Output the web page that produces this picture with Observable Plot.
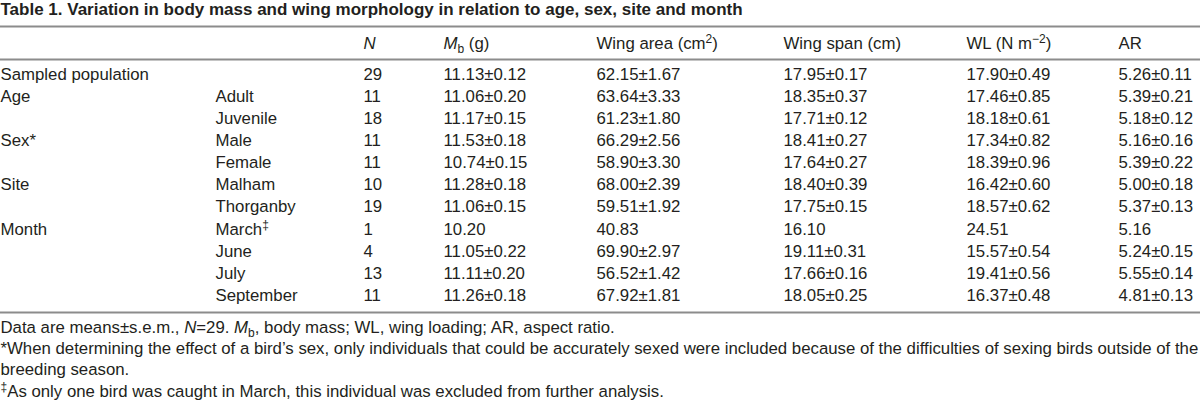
<!DOCTYPE html>
<html>
<head>
<meta charset="utf-8">
<script src="https://cdn.jsdelivr.net/npm/d3@7"></script>
<script src="https://cdn.jsdelivr.net/npm/@observablehq/plot@0.6"></script>
<style>
  html, body { margin: 0; padding: 0; background: #fff; }
  #chart svg { display: block; }
</style>
</head>
<body>
<div id="chart"></div>
<script>
// ---------- data ----------
const title = "Table 1. Variation in body mass and wing morphology in relation to age, sex, site and month";
const headers = ["", "", "<i>N</i>", "<i>M</i><sub>b</sub> (g)", "Wing area (cm<sup>2</sup>)", "Wing span (cm)", "WL (N m<sup>−2</sup>)", "AR"];
const groupLabels = ["Sampled population", "Age", "", "Sex*", "", "Site", "", "Month", "", "", ""];
const levels = ["", "Adult", "Juvenile", "Male", "Female", "Malham", "Thorganby", "March<sup>‡</sup>", "June", "July", "September"];
const nValues = [29, 11, 18, 11, 11, 10, 19, 1, 4, 13, 11];
const massMean = [11.13, 11.06, 11.17, 11.53, 10.74, 11.28, 11.06, 10.20, 11.05, 11.11, 11.26];
const massSem  = [0.12, 0.20, 0.15, 0.18, 0.15, 0.18, 0.15, null, 0.22, 0.20, 0.18];
const areaMean = [62.15, 63.64, 61.23, 66.29, 58.90, 68.00, 59.51, 40.83, 69.90, 56.52, 67.92];
const areaSem  = [1.67, 3.33, 1.80, 2.56, 3.30, 2.39, 1.92, null, 2.97, 1.42, 1.81];
const spanMean = [17.95, 18.35, 17.71, 18.41, 17.64, 18.40, 17.75, 16.10, 19.11, 17.66, 18.05];
const spanSem  = [0.17, 0.37, 0.12, 0.27, 0.27, 0.39, 0.15, null, 0.31, 0.16, 0.25];
const wlMean   = [17.90, 17.46, 18.18, 17.34, 18.39, 16.42, 18.57, 24.51, 15.57, 19.41, 16.37];
const wlSem    = [0.49, 0.85, 0.61, 0.82, 0.96, 0.60, 0.62, null, 0.54, 0.56, 0.48];
const arMean   = [5.26, 5.39, 5.18, 5.16, 5.39, 5.00, 5.37, 5.16, 5.24, 5.55, 4.81];
const arSem    = [0.11, 0.21, 0.12, 0.16, 0.22, 0.18, 0.13, null, 0.15, 0.14, 0.13];
const footnotes = [
  "Data are means±s.e.m., <i>N</i>=29. <i>M</i><sub>b</sub>, body mass; WL, wing loading; AR, aspect ratio.",
  "*When determining the effect of a bird’s sex, only individuals that could be accurately sexed were included because of the difficulties of sexing birds outside of the",
  "breeding season.",
  "<sup>‡</sup>As only one bird was caught in March, this individual was excluded from further analysis."
];

// ---------- layout ----------
const W = 1200, H = 402;
const colX = [0, 215, 363, 443, 596, 783, 966, 1118];
const titleY = 9, headerY = 43, firstRowY = 74, rowStep = 22.1;
const ruleYs = [26, 59, 312];
const footY0 = 327, footStep = 21.3;
const textColor = "#231f20";
const font = "'Liberation Sans', Arial, Helvetica, sans-serif";
const bodySize = 16.8, titleSize = 17, smallSize = 12;

const fmt = (m, s) => s == null ? m.toFixed(2) : `${m.toFixed(2)}±${s.toFixed(2)}`;
const rowY = i => firstRowY + rowStep * i;

const cells = [];
headers.forEach((h, j) => { if (h) cells.push({x: colX[j], y: headerY, text: h}); });
groupLabels.forEach((g, i) => {
  const vals = [g, levels[i], String(nValues[i]),
    fmt(massMean[i], massSem[i]), fmt(areaMean[i], areaSem[i]), fmt(spanMean[i], spanSem[i]),
    fmt(wlMean[i], wlSem[i]), fmt(arMean[i], arSem[i])];
  vals.forEach((v, j) => { if (v) cells.push({x: colX[j], y: rowY(i), text: v}); });
});
const notes = footnotes.map((t, i) => ({x: 0, y: footY0 + footStep * i, text: t}));

const chart = Plot.plot({
  width: W, height: H, margin: 0,
  x: {domain: [0, W], range: [0, W], axis: null},
  y: {domain: [0, H], range: [0, H], axis: null},
  style: {fontFamily: font, background: "#fff", overflow: "visible"},
  marks: [
    Plot.ruleY(ruleYs, {x1: 0, x2: W, stroke: "#8c8c8c", strokeWidth: 2}),
    Plot.text([{x: 0, y: titleY, text: title}], {x: "x", y: "y", text: "text", textAnchor: "start", fontSize: titleSize, fontWeight: "bold", fill: textColor}),
    Plot.text(cells, {x: "x", y: "y", text: "text", textAnchor: "start", fontSize: bodySize, fill: textColor}),
    Plot.text(notes, {x: "x", y: "y", text: "text", textAnchor: "start", fontSize: bodySize, fill: textColor})
  ]
});

// rich text: <i>, <sub>, <sup>
d3.select(chart).selectAll("text").each(function() {
  const el = d3.select(this);
  const raw = this.textContent;
  if (!/<(i|sub|sup)>/.test(raw)) return;
  el.text(null);
  const re = /<(i|sub|sup)>(.*?)<\/\1>/g;
  let last = 0, m, offset = 0;
  const add = (s, kind) => {
    if (!s) return;
    const t = el.append("tspan").text(s);
    let target = 0;
    if (kind === "i") t.attr("font-style", "italic");
    if (kind === "sub") { t.attr("font-size", smallSize); target = 4; }
    if (kind === "sup") { t.attr("font-size", smallSize); target = -6; }
    if (target !== offset) { t.attr("dy", target - offset); offset = target; }
  };
  while ((m = re.exec(raw))) {
    add(raw.slice(last, m.index), null);
    add(m[2], m[1]);
    last = re.lastIndex;
  }
  add(raw.slice(last), null);
});

document.getElementById("chart").appendChild(chart);
</script>
</body>
</html>
